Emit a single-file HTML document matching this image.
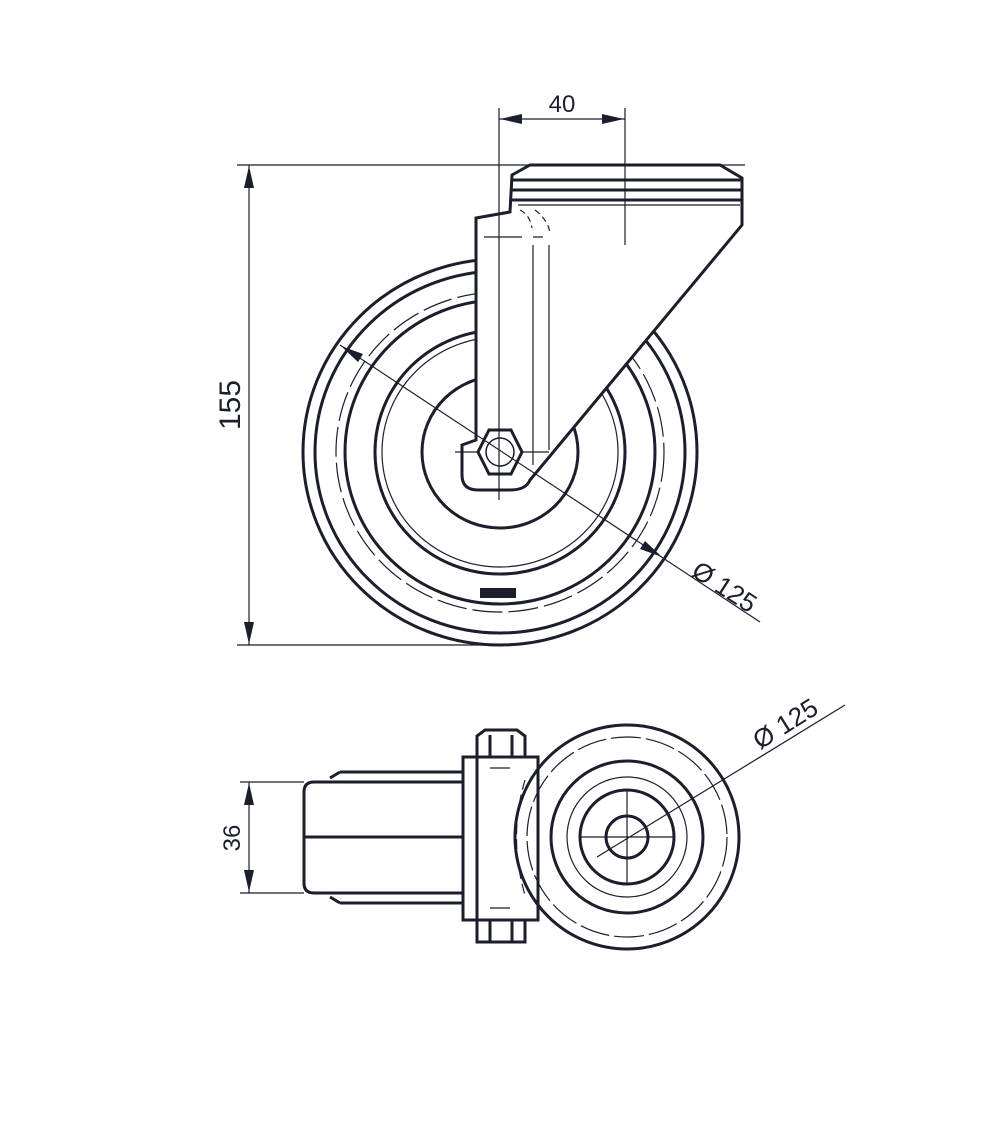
<!DOCTYPE html>
<html><head><meta charset="utf-8"><style>body{margin:0;background:#fff}svg{display:block}</style></head>
<body>
<svg width="1000" height="1135" viewBox="0 0 1000 1135" xmlns="http://www.w3.org/2000/svg" font-family="Liberation Sans, sans-serif">
<defs><clipPath id="cw"><polygon points="0,0 476,0 476,218 512,210 742,225 528,480 476,480 476,1135 0,1135"/></clipPath>
<clipPath id="cw2"><polygon points="0,0 1000,0 1000,1135 528,490 742,225 742,0"/></clipPath></defs>
<g fill="none" stroke="#1b1e2b">
<!-- TOP VIEW wheel -->
<g stroke-width="3">
<ellipse cx="500" cy="452" rx="197" ry="193"/>
<ellipse cx="500" cy="452" rx="185" ry="181"/>
<ellipse cx="500" cy="452" rx="155" ry="152"/>
<ellipse cx="500" cy="452" rx="125" ry="122"/>
<ellipse cx="500" cy="452" rx="78" ry="76"/>
</g>
<ellipse cx="500" cy="452" rx="118" ry="115" stroke-width="1.2"/>
<ellipse cx="500" cy="452" rx="164" ry="160" stroke-width="1.2" stroke-dasharray="30 6"/>
<rect x="480" y="588" width="36" height="10" fill="#1b1e2b" stroke="none"/>
<!-- fork -->
<path d="M476,218 L510,212 L512,175 L530,165 L720,165 L742,178 L742,225 L530,480 Q526,490 510,490 L478,490 Q462,490 462,475 L462,445 L476,440 Z" fill="#fff" stroke-width="3"/>
<path d="M512,180 L742,180 M512,190 L742,190 M512,200 L742,200" stroke-width="3"/>
<line x1="518" y1="205" x2="740" y2="205" stroke-width="1.2"/>
<path d="M484,237 L522,237 M533,237 L543,237 M533,245 L533,465 M549,245 L549,450 M455,452 L549,452" stroke-width="1.2"/>
<path d="M520,210 Q530,215 532,228 M535,210 Q548,220 550,233" stroke-width="1.2" stroke-dasharray="6 4"/>
<polygon points="489,430 511,430 522,452 511,474 489,474 478,452" fill="#fff" stroke-width="3"/>
<circle cx="500" cy="452" r="14" stroke-width="1.5"/>
<!-- dims top -->
<g stroke-width="1.2">
<line x1="237" y1="165" x2="745" y2="165"/>
<line x1="237" y1="645" x2="500" y2="645"/>
<line x1="249" y1="165" x2="249" y2="645"/>
<line x1="499" y1="108" x2="499" y2="500"/>
<line x1="625" y1="108" x2="625" y2="245"/>
<line x1="499" y1="119" x2="625" y2="119"/>
<line x1="340" y1="345" x2="760" y2="622"/>
</g>
<g fill="#1b1e2b" stroke="none">
<polygon points="249,166 244,188 254,188"/><polygon points="249,644 244,622 254,622"/>
<polygon points="500,119 522,114 522,124"/><polygon points="624,119 602,114 602,124"/>
<polygon points="341,346 358,362 363,354"/><polygon points="662,557 645,541 640,549"/>
</g>
<!-- BOTTOM VIEW -->
<g stroke-width="3">
<path d="M340,772 L463,772 L463,903 L340,903 M330,778 L340,772 M330,897 L340,903"/>
<path d="M314,782 L477,782 L477,893 L314,893 Q304,893 304,883 L304,792 Q304,782 314,782 Z" fill="#fff"/>
<line x1="304" y1="837" x2="477" y2="837"/>
<path d="M463,757 L538,757 L538,920 L463,920 Z M477,757 L477,920" fill="#fff"/>
<path d="M477,757 L477,736 L485,730 L517,730 L525,736 L525,757 M490,735 L490,757 M512,735 L512,757"/>
<path d="M477,920 L477,942 L525,942 L525,920 M490,920 L490,942 M512,920 L512,942"/>
<circle cx="627" cy="837" r="112"/>
<circle cx="627" cy="837" r="76"/>
<circle cx="627" cy="837" r="47"/>
<circle cx="627" cy="837" r="21"/>
</g>
<g stroke-width="1.2">
<circle cx="627" cy="837" r="100" stroke-dasharray="30 5"/>
<circle cx="627" cy="837" r="60"/>
<path d="M525,780 Q508,837 525,895" stroke-dasharray="10 5"/>
<path d="M490,768 L510,768 M490,908 L510,908"/>
<line x1="580" y1="837" x2="674" y2="837"/><line x1="627" y1="790" x2="627" y2="884"/>
<line x1="240" y1="782" x2="304" y2="782"/><line x1="240" y1="893" x2="304" y2="893"/>
<line x1="249" y1="782" x2="249" y2="893"/>
<line x1="597" y1="857" x2="845" y2="705"/>
</g>
<g fill="#1b1e2b" stroke="none">
<polygon points="249,783 244,805 254,805"/><polygon points="249,892 244,870 254,870"/>
</g>
</g>
<g fill="#1b1e2b" font-size="30">
<text transform="translate(240,405) rotate(-90)" text-anchor="middle">155</text>
<text x="562" y="112" font-size="24" text-anchor="middle">40</text>
<text transform="translate(690,575) rotate(33)" font-size="26">Ø 125</text>
<text transform="translate(240,838) rotate(-90)" text-anchor="middle" font-size="24">36</text>
<text transform="translate(760,750) rotate(-32)" font-size="26">Ø 125</text>
</g>
</svg>
</body></html>
